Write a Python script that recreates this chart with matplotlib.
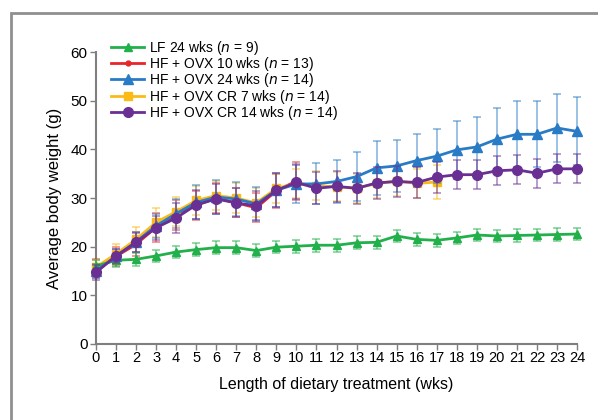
import matplotlib.pyplot as plt
import numpy as np
from matplotlib.patches import Rectangle

plt.rcParams['font.family'] = ['Liberation Sans', 'DejaVu Sans']
plt.rcParams['font.size'] = 10

# Data (weeks of dietary treatment)
weeks = np.arange(0, 25)

lf_24 = [16.0, 17.2, 17.4, 18.1, 18.9, 19.4, 19.8, 19.8, 19.2, 19.9, 20.1, 20.3, 20.3,
         20.8, 20.9, 22.2, 21.5, 21.3, 21.8, 22.4, 22.2, 22.3, 22.4, 22.5, 22.6]
lf_24_err = [1.3] * 25

hf_ovx_10 = [15.5, 18.0, 20.5, 24.0, 26.5, 28.5, 30.0, 29.0, 28.0, 31.5, 33.5]
hf_ovx_10_err = [2.0, 2.0, 2.5, 3.0, 3.0, 3.0, 3.0, 3.0, 3.0, 3.5, 4.0]

hf_ovx_24 = [15.0, 18.0, 21.0, 24.3, 26.8, 29.1, 30.2, 29.8, 28.8, 31.6, 32.9, 32.9, 33.4,
             34.4, 36.2, 36.6, 37.7, 38.6, 39.9, 40.5, 42.1, 43.1, 43.1, 44.4, 43.7]
hf_ovx_24_err = [1.5, 1.5, 2.0, 2.5, 3.0, 3.5, 3.5, 3.5, 3.5, 3.5, 4.0, 4.2, 4.5,
                 5.0, 5.5, 5.3, 5.4, 5.5, 6.0, 6.2, 6.5, 6.8, 6.8, 7.0, 7.0]

hf_ovx_cr7 = [15.8, 18.5, 21.5, 25.0, 27.2, 29.5, 30.5, 30.0, 29.0, 32.0, 33.0, 32.5,
              32.3, 32.0, 33.0, 33.5, 33.0, 33.3]
hf_ovx_cr7_err = [1.5, 2.0, 2.5, 3.0, 3.0, 3.0, 3.0, 3.0, 3.0, 3.0, 3.0, 3.0,
                  3.0, 3.0, 3.0, 3.0, 3.0, 3.5]

hf_ovx_cr14 = [14.7, 18.1, 20.9, 23.9, 25.9, 28.6, 29.8, 29.0, 28.4, 31.6, 33.2, 32.0,
               32.4, 32.0, 33.1, 33.4, 33.2, 34.3, 34.8, 34.8, 35.6, 35.8, 35.1, 36.0, 36.0]
hf_ovx_cr14_err = [1.5, 1.5, 2.0, 2.5, 3.0, 3.0, 3.0, 3.0, 3.0, 3.5, 3.5, 3.3,
                   3.2, 3.2, 3.2, 3.2, 3.2, 3.2, 3.0, 3.0, 3.0, 3.0, 3.0, 3.0, 3.0]

series = [
    ('LF 24 wks ($n$ = 9)', lf_24, lf_24_err, '#22b04b', '^', 6, 5),
    ('HF + OVX 10 wks ($n$ = 13)', hf_ovx_10, hf_ovx_10_err, '#e8252b', 'o', 3.5, 3),
    ('HF + OVX 24 wks ($n$ = 14)', hf_ovx_24, hf_ovx_24_err, '#2a7bc6', '^', 6.5, 5),
    ('HF + OVX CR 7 wks ($n$ = 14)', hf_ovx_cr7, hf_ovx_cr7_err, '#fbbb16', 's', 6, 4),
    ('HF + OVX CR 14 wks ($n$ = 14)', hf_ovx_cr14, hf_ovx_cr14_err, '#6a2f93', 'o', 7, 6),
]

fig = plt.figure(figsize=(5.98, 4.2), dpi=100)
ax = fig.add_axes([0.1605, 0.181, 0.8045, 0.695])

# grey frame around the panel
fig.patches.append(Rectangle((11 / 598, -0.1), 1.2, 1.1 - 13 / 420, transform=fig.transFigure,
                             fill=False, edgecolor='#8f8f8f', linewidth=2))

handles = []
for label, vals, err, color, marker, ms, z in series:
    x = weeks[:len(vals)]
    eb = ax.errorbar(x, vals, yerr=err, color=color, marker=marker, markersize=ms,
                     linewidth=2, elinewidth=1.2, ecolor=color, capsize=3, capthick=1.2,
                     label=label, zorder=z, clip_on=False)
    for artist in eb[1] + eb[2]:
        artist.set_alpha(0.55)
        artist.set_clip_on(False)
    handles.append(eb.lines[0])

ax.set_xlim(0, 24)
ax.set_ylim(0, 60)
ax.set_xticks(weeks)
ax.set_yticks(np.arange(0, 61, 10))
ax.set_xlabel('Length of dietary treatment (wks)', labelpad=9, fontsize=11.5)
ax.set_ylabel('Average body weight (g)', labelpad=6, fontsize=12)

for side in ['top', 'right']:
    ax.spines[side].set_visible(False)
for side in ['left', 'bottom']:
    ax.spines[side].set_color('#7f7f7f')
    ax.spines[side].set_linewidth(1.5)
ax.tick_params(colors='#7f7f7f', labelcolor='black', length=4, width=1, pad=2)
ax.tick_params(axis='y', labelsize=11)
ax.tick_params(axis='x', labelsize=10.5, pad=1)

ax.legend(handles, [s[0] for s in series], loc='upper left', bbox_to_anchor=(0.02, 1.065),
          frameon=False, handlelength=2.4, handletextpad=0.3, labelspacing=-0.12,
          borderaxespad=0, fontsize=10)

plt.savefig('out.png', dpi=100)
